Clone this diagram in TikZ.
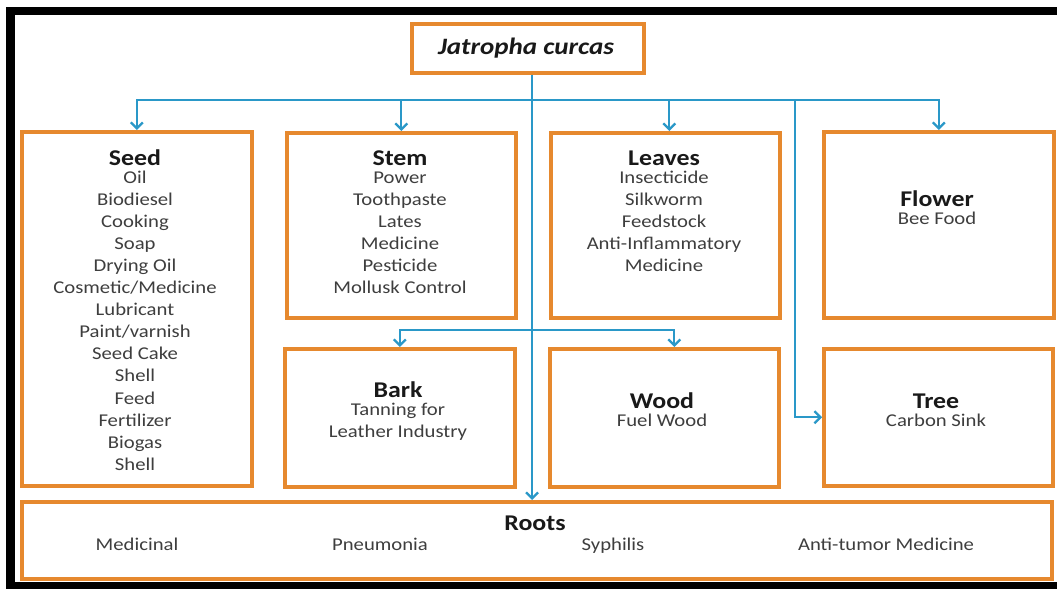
\documentclass[tikz,border=0pt]{standalone}
\usepackage{fontspec}
\setmainfont{Carlito}[FakeStretch=1.15]
\usetikzlibrary{arrows.meta}
\definecolor{orng}{RGB}{230,137,46}
\definecolor{blu}{RGB}{42,152,200}
\definecolor{itemc}{RGB}{62,62,62}
\definecolor{ttlc}{RGB}{25,25,25}
\tikzset{
  box/.style={draw=orng, line width=3.5pt, fill=white, inner sep=0pt, anchor=north west},
  ttl/.style={text=ttlc, font=\fontsize{22.5}{26}\selectfont\bfseries, anchor=base, inner sep=0pt},
  item/.style={text=itemc, font=\fontsize{18}{22}\selectfont, anchor=base, inner sep=0pt},
  conn/.style={draw=blu, line width=2.3pt},
  arr/.style={conn, -{Straight Barb[length=6pt,width=12pt]}}
}
\begin{document}
\begin{tikzpicture}[x=1pt,y=-1pt]
\useasboundingbox (0,0) rectangle (1057,589);
\fill[white] (0,0) rectangle (1057,589);
% black frame
\fill[black] (7,7) rectangle (1057,15);
\fill[black] (6,7) rectangle (15,589);
\fill[black] (6,582) rectangle (1057,589);

% boxes
\node[box, minimum width=232pt, minimum height=49pt] (jc) at (410,22) {};
\node[box, minimum width=230pt, minimum height=354pt] (seed) at (20,130) {};
\node[box, minimum width=229pt, minimum height=185pt] (stem) at (285,131) {};
\node[box, minimum width=229pt, minimum height=185pt] (leaves) at (549,131) {};
\node[box, minimum width=230pt, minimum height=186pt] (flower) at (822,130) {};
\node[box, minimum width=230pt, minimum height=138pt] (bark) at (283,347) {};
\node[box, minimum width=229pt, minimum height=138pt] (wood) at (548,347) {};
\node[box, minimum width=229pt, minimum height=137pt] (tree) at (822,347) {};
\node[box, minimum width=1030pt, minimum height=77pt] (roots) at (20,500) {};

% connectors
\coordinate (hub) at (532,100);
\coordinate (tb) at (795,100);
\coordinate (bw) at (532,330);
\draw[arr] (hub |- jc.south) -- (hub |- roots.north);
\draw[arr] (hub) -| (seed.north);
\draw[arr] (hub) -| (stem.north);
\draw[arr] (hub) -| ([xshift=4pt]leaves.north);
\draw[arr] (hub) -| (flower.north);
\draw[arr] (tb) |- (tree.west);
\draw[arr] (bw) -| (bark.north);
\draw[arr] (bw) -| ([xshift=10pt]wood.north);

% texts
\node[ttl, font=\fontsize{23.5}{27}\selectfont\bfseries\itshape] (jct) at (526,54) {Jatropha curcas};

\node[ttl] (seedt) at (135,165) {Seed};
\foreach \t [count=\i from 0] in {Oil,Biodiesel,Cooking,Soap,Drying Oil,Cosmetic/Medicine,Lubricant,Paint/varnish,Seed Cake,Shell,Feed,Fertilizer,Biogas,Shell}
  \node[item] (seedi\i) at (135,{183+22.1*\i}) {\t};

\node[ttl] (stemt) at (400,165) {Stem};
\foreach \t [count=\i from 0] in {Power,Toothpaste,Lates,Medicine,Pesticide,Mollusk Control}
  \node[item] (stemi\i) at (400,{183+22.1*\i}) {\t};

\node[ttl] (leavest) at (664,165) {Leaves};
\foreach \t [count=\i from 0] in {Insecticide,Silkworm,Feedstock,Anti-Inflammatory,Medicine}
  \node[item] (leavesi\i) at (664,{183+22.1*\i}) {\t};

\node[ttl] (flowert) at (937,206) {Flower};
\node[item] (floweri) at (937,224) {Bee Food};

\node[ttl] (barkt) at (398,397) {Bark};
\node[item] (barki0) at (398,415) {Tanning for};
\node[item] (barki1) at (398,437) {Leather Industry};

\node[ttl] (woodt) at (662,408) {Wood};
\node[item] (woodi) at (662,426) {Fuel Wood};

\node[ttl] (treet) at (936,408) {Tree};
\node[item] (treei) at (936,426) {Carbon Sink};

\node[ttl] (rootst) at (535,530) {Roots};
\node[item] (rootsi0) at (137,550) {Medicinal};
\node[item] (rootsi1) at (380,550) {Pneumonia};
\node[item] (rootsi2) at (613,550) {Syphilis};
\node[item] (rootsi3) at (886,550) {Anti-tumor Medicine};
\end{tikzpicture}
\end{document}
